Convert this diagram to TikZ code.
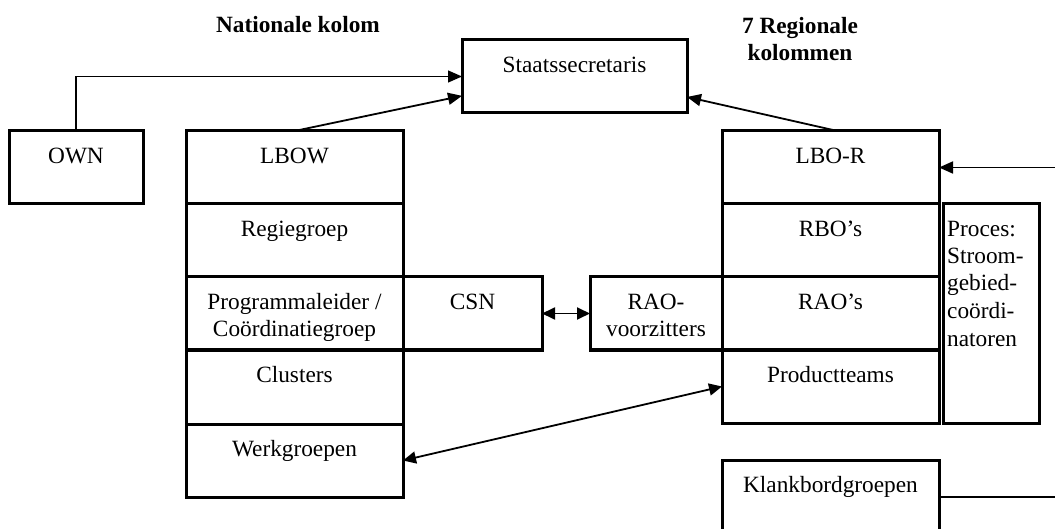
\documentclass[tikz,border=0pt]{standalone}
\usepackage{fontspec}
\setmainfont{Liberation Serif}
\usetikzlibrary{arrows.meta,calc}
\newcommand\fs{\fontsize{23.3}{27.5}\selectfont}
\tikzset{
  cell/.style={draw, line width=3pt, inner sep=0pt, outer sep=0pt, anchor=north west},
  lbl/.style={anchor=base, inner sep=0pt, align=center, font=\fs},
  head/.style={anchor=base, inner sep=0pt, align=center, font=\fs\bfseries},
  conn/.style={line width=1.8pt, -{Triangle[length=14pt,width=12pt]}},
  thin/.style={line width=1.3pt},
  both/.style={line width=1.8pt, {Triangle[length=13pt,width=12pt]}-{Triangle[length=13pt,width=12pt]}}
}
\begin{document}
\begin{tikzpicture}[x=1pt,y=-1pt]
\useasboundingbox (0,0) rectangle (1055,529);
\clip (0,0) rectangle (1055,529);
% headings (multi-line nodes are placed by the baseline of their last line)
\node[head] (hnat) at (298,33) {Nationale kolom};
\node[head] (hreg) at (800,61) {7 Regionale\\kolommen};
% top box
\node[cell, minimum width=225pt, minimum height=73pt] (stsec) at (462,40) {};
\node[lbl] (tstsec) at (574.5,72.5) {Staatssecretaris};
% OWN
\node[cell, minimum width=134pt, minimum height=73pt] (own) at (9,131) {};
\node[lbl] (town) at (76,163.5) {OWN};
% national column
\node[cell, minimum width=217pt, minimum height=73pt] (lbow) at (186,131) {};
\node[cell, minimum width=217pt, minimum height=73pt] (regie) at (186,204) {};
\node[cell, minimum width=217pt, minimum height=73pt] (prog) at (186,277) {};
\node[cell, minimum width=217pt, minimum height=74pt] (clus) at (186,350) {};
\node[cell, minimum width=217pt, minimum height=73pt] (werk) at (186,424) {};
\node[lbl] (tlbow) at (294.5,163.5) {LBOW};
\node[lbl] (tregie) at (294.5,236.5) {Regiegroep};
\node[lbl] (tprog) at (294.5,337) {Programmaleider /\\Coördinatiegroep};
\node[lbl] (tclus) at (294.5,382.5) {Clusters};
\node[lbl] (twerk) at (294.5,456.5) {Werkgroepen};
% CSN and RAO
\node[cell, minimum width=139pt, minimum height=73pt] (csn) at (403,277) {};
\node[lbl] (tcsn) at (472.5,309.5) {CSN};
\node[cell, minimum width=132pt, minimum height=73pt] (rao) at (590,277) {};
\node[lbl] (trao) at (656,337) {RAO-\\voorzitters};
% regional column
\node[cell, minimum width=217pt, minimum height=73pt] (lbor) at (722,131) {};
\node[cell, minimum width=217pt, minimum height=73pt] (rbo) at (722,204) {};
\node[cell, minimum width=217pt, minimum height=73pt] (raos) at (722,277) {};
\node[cell, minimum width=217pt, minimum height=73pt] (prod) at (722,350) {};
\node[lbl] (tlbor) at (830.5,163.5) {LBO-R};
\node[lbl] (trbo) at (830.5,236.5) {RBO’s};
\node[lbl] (traos) at (830.5,309.5) {RAO’s};
\node[lbl] (tprod) at (830.5,382.5) {Productteams};
% Proces
\node[cell, minimum width=96pt, minimum height=219pt] (proces) at (943,204) {};
\node[lbl, anchor=base west, align=left] (tproces) at (947,346) {Proces:\\Stroom-\\gebied-\\coördi-\\natoren};
% Klankbord
\node[cell, minimum width=217pt, minimum height=74pt] (klank) at (722,460) {};
\node[lbl] (tklank) at (830.5,492.5) {Klankbordgroepen};
% connectors
\coordinate (e1) at (1056,167.5);
\coordinate (e2) at (1056,497);
\draw[conn, line width=1.3pt] (own.north) |- (stsec.west);
\draw[conn] (lbow.north) -- ($(stsec.west)!0.53!(stsec.south west)$);
\draw[conn] ($(lbor.north)+(7,0)$) -- ($(stsec.east)!0.56!(stsec.south east)$);
\draw[conn] (e1 |- lbor.east) -- (lbor.east);
\draw[thin] (klank.east) -- (klank.east -| e2);
\draw[both] (csn.east) -- (rao.west);
\draw[both] (werk.east) -- (prod.west);
\end{tikzpicture}
\end{document}
